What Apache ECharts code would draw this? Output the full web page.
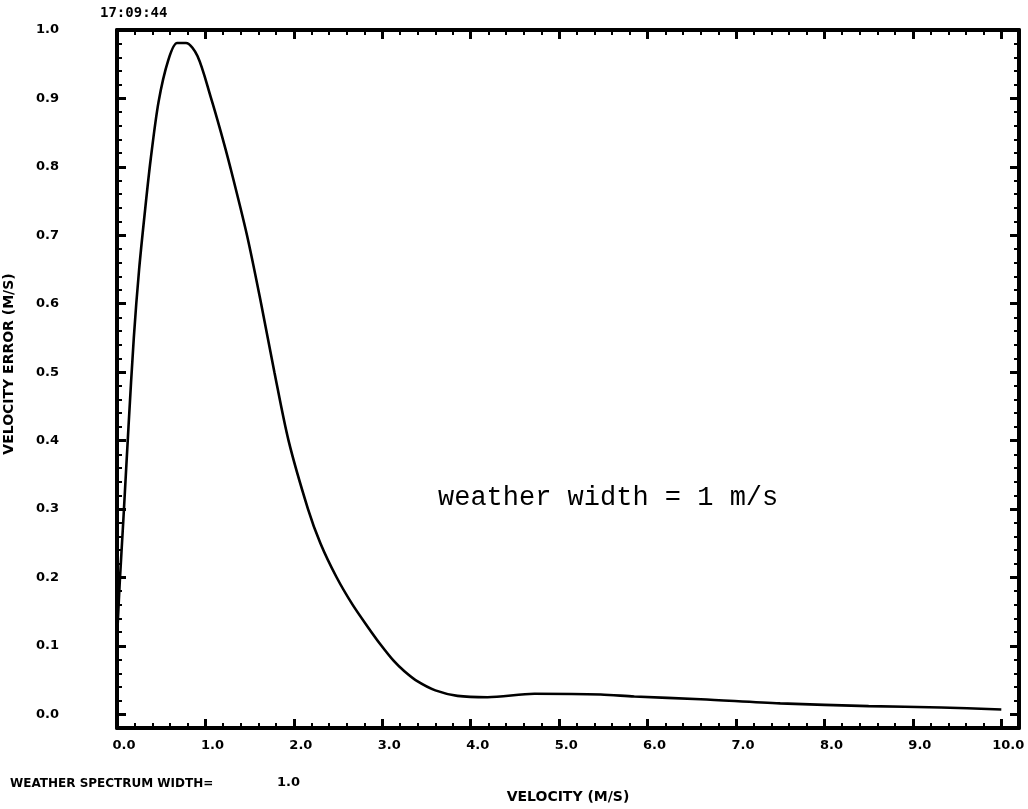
<!DOCTYPE html>
<html>
<head>
<meta charset="utf-8">
<script src="https://cdn.jsdelivr.net/npm/echarts@6/dist/echarts.min.js"></script>
<style>
html,body{margin:0;padding:0;background:#fff;}
#chart{width:1028px;height:809px;}
</style>
</head>
<body>
<div id="chart"></div>
<script>
// ---- data ----
const velocity = [0, 0.03, 0.07, 0.13, 0.19, 0.25, 0.32, 0.38, 0.47, 0.58, 0.68, 0.78, 0.91, 1.06, 1.17, 1.28, 1.47, 1.63, 1.78, 1.94, 2.16, 2.30, 2.48, 2.66, 2.84, 2.98, 3.13, 3.25, 3.40, 3.60, 3.85, 4.19, 4.72, 5.47, 5.85, 6.60, 7.50, 8.50, 9.32, 10.0];
const velocityError = [0.11, 0.19, 0.28, 0.42, 0.55, 0.65, 0.74, 0.81, 0.895, 0.956, 0.981, 0.981, 0.962, 0.902, 0.853, 0.800, 0.700, 0.600, 0.500, 0.400, 0.300, 0.250, 0.201, 0.161, 0.127, 0.102, 0.078, 0.063, 0.048, 0.035, 0.027, 0.025, 0.030, 0.029, 0.026, 0.022, 0.016, 0.012, 0.010, 0.007];

const xMajorTicks = [0, 1, 2, 3, 4, 5, 6, 7, 8, 9, 10];
const yMajorTicks = [0, 0.1, 0.2, 0.3, 0.4, 0.5, 0.6, 0.7, 0.8, 0.9, 1.0];
const xMinorStep = 0.2;
const yMinorStep = 0.02;

const timeStamp = '17:09:44';
const xAxisTitle = 'VELOCITY (M/S)';
const yAxisTitle = 'VELOCITY ERROR (M/S)';
const footLabel = 'WEATHER SPECTRUM WIDTH=';
const footValue = '1.0';
const annotation = 'weather width = 1 m/s';

// ---- build ----
const xMinor = [];
for (let i = 0; i <= 50; i++) xMinor.push(+(i * xMinorStep).toFixed(2));
const yMinor = [];
for (let i = 0; i <= 50; i++) yMinor.push(+(i * yMinorStep).toFixed(2));

const X_MIN = 0, X_MAX = 10.2, Y_MIN = -0.02, Y_MAX = 1.0;
const labelFont = {color: '#000', fontFamily: 'DejaVu Sans', fontWeight: 'bold', fontSize: 13};

function xAx(pos, ticks, len, width, line, labels) {
  return {
    type: 'value', position: pos, min: X_MIN, max: X_MAX,
    axisLine: {show: line, onZero: false, lineStyle: {color: '#000', width: 4}},
    axisTick: {show: true, inside: true, length: len, customValues: ticks, lineStyle: {color: '#000', width: width}},
    axisLabel: labels ? Object.assign({show: true, margin: 11, padding: [0, 0, 0, 14], customValues: xMajorTicks, formatter: v => v.toFixed(1)}, labelFont) : {show: false},
    splitLine: {show: false}
  };
}
function yAx(pos, ticks, len, width, line, labels) {
  return {
    type: 'value', position: pos, min: Y_MIN, max: Y_MAX,
    axisLine: {show: line, onZero: false, lineStyle: {color: '#000', width: 4}},
    axisTick: {show: true, inside: true, length: len, customValues: ticks, lineStyle: {color: '#000', width: width}},
    axisLabel: labels ? Object.assign({show: true, margin: 58, customValues: yMajorTicks, formatter: v => v.toFixed(1)}, labelFont) : {show: false},
    splitLine: {show: false}
  };
}

const chart = echarts.init(document.getElementById('chart'), null, {renderer: 'canvas'});
chart.setOption({
  backgroundColor: '#fff',
  animation: false,
  grid: {left: 117, right: 9, top: 30, bottom: 81, containLabel: false},
  xAxis: [
    xAx('bottom', xMinor, 5, 2, true, true),
    xAx('bottom', xMajorTicks, 9, 3, false, false),
    xAx('top', xMinor, 5, 2, true, false),
    xAx('top', xMajorTicks, 9, 3, false, false)
  ],
  yAxis: [
    yAx('left', yMinor, 5, 2, true, true),
    yAx('left', yMajorTicks, 9, 3, false, false),
    yAx('right', yMinor, 5, 2, true, false),
    yAx('right', yMajorTicks, 9, 3, false, false)
  ],
  series: [{
    type: 'line',
    xAxisIndex: 0, yAxisIndex: 0,
    data: velocity.map((v, i) => [v, velocityError[i]]),
    smooth: 0.3,
    showSymbol: false,
    lineStyle: {color: '#000', width: 2.6},
    silent: true
  }],
  graphic: [
    {type: 'text', left: 100, top: 6, style: {text: timeStamp, fill: '#000', font: 'bold 14px "DejaVu Sans Mono"'}},
    {type: 'text', x: 9, y: 364, rotation: Math.PI / 2, style: {text: yAxisTitle, fill: '#000', font: 'bold 14px "DejaVu Sans"', align: 'center', verticalAlign: 'middle'}},
    {type: 'text', x: 568, y: 797, style: {text: xAxisTitle, fill: '#000', font: 'bold 14px "DejaVu Sans"', align: 'center', verticalAlign: 'middle'}},
    {type: 'text', x: 10, y: 784, style: {text: footLabel, fill: '#000', font: 'bold 12px "DejaVu Sans"', align: 'left', verticalAlign: 'middle'}},
    {type: 'text', x: 277, y: 783, style: {text: footValue, fill: '#000', font: 'bold 13px "DejaVu Sans"', align: 'left', verticalAlign: 'middle'}},
    {type: 'text', x: 438, y: 498, style: {text: annotation, fill: '#000', font: '27px "Liberation Mono"', align: 'left', verticalAlign: 'middle'}}
  ]
});
</script>
</body>
</html>
